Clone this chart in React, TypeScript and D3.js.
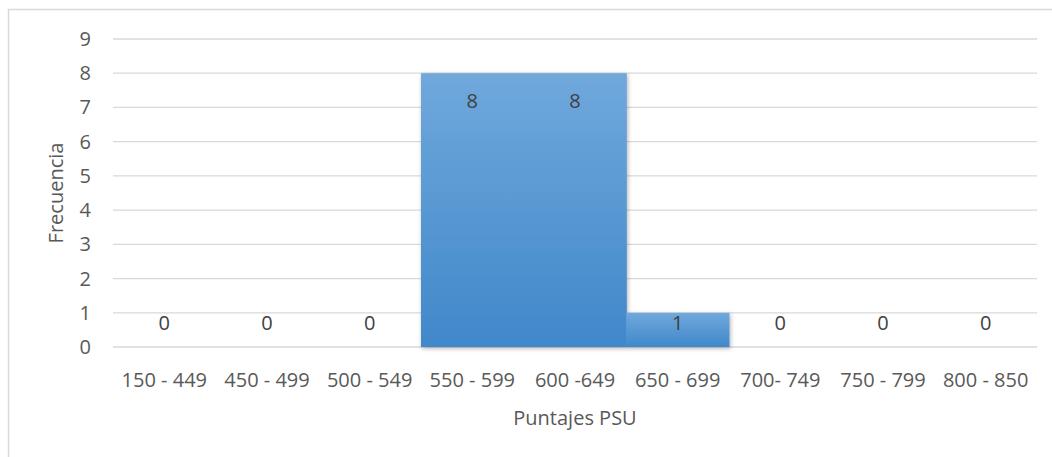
import React from "react";
import * as d3 from "d3";

const categories = ["150 - 449", "450 - 499", "500 - 549", "550 - 599", "600 -649", "650 - 699", "700- 749", "750 - 799", "800 - 850"];
const values = [0, 0, 0, 8, 8, 1, 0, 0, 0];
const yTicks = [0, 1, 2, 3, 4, 5, 6, 7, 8, 9];

const W = 1052;
const H = 457;
const margin = { left: 113, right: 15, top: 39, bottom: 110 };
const FONT = "'Open Sans', 'Liberation Sans', sans-serif";
const TXT = "#595959";
const FS = 20;

export default function App() {
  const x = d3.scaleBand<string>().domain(categories).range([margin.left, W - margin.right]).paddingInner(0).paddingOuter(0);
  const y = d3.scaleLinear().domain([0, 9]).range([H - margin.bottom, margin.top]);
  const y0 = y(0);
  return (
    <svg width={W} height={H} style={{ position: "absolute", left: 0, top: 0, display: "block" }}>
      <defs>
        <linearGradient id="barGrad" x1="0" y1="0" x2="0" y2="1">
          <stop offset="0%" stopColor="#70a8dc" />
          <stop offset="100%" stopColor="#4088ca" />
        </linearGradient>
        <filter id="shadow" x="-10%" y="-10%" width="120%" height="120%">
          <feDropShadow dx="1" dy="1.5" stdDeviation="2.2" floodColor="#000" floodOpacity="0.3" />
        </filter>
      </defs>
      <rect x={0} y={0} width={W} height={H} fill="#fff" />
      <line x1={8.5} y1={9} x2={8.5} y2={H} stroke="#d9d9d9" strokeWidth={1.5} />
      <line x1={8} y1={9.5} x2={W} y2={9.5} stroke="#d9d9d9" strokeWidth={1.5} />
      {yTicks.map((t) => (
        <g key={t}>
          <line x1={margin.left} x2={W - margin.right} y1={y(t)} y2={y(t)} stroke="#d9d9d9" strokeWidth={1.3} />
          <text x={91} y={y(t)} dy="0.35em" textAnchor="end" fontFamily={FONT} fontSize={FS} fill={TXT}>{t}</text>
        </g>
      ))}
      <g filter="url(#shadow)">
        {categories.map((c, i) => {
          const v = values[i];
          if (v <= 0) return null;
          return (
            <rect key={c} x={x(c)!} y={y(v)} width={x.bandwidth() + 0.5} height={y0 - y(v)} fill="url(#barGrad)" />
          );
        })}
      </g>
      {categories.map((c, i) => {
        const v = values[i];
        const cy = Math.min(y(v) + 28, y0 - 24);
        return (
          <text key={"l" + c} x={x(c)! + x.bandwidth() / 2} y={cy} dy="0.35em" textAnchor="middle" fontFamily={FONT} fontSize={FS} fill="#404040">{v}</text>
        );
      })}
      {categories.map((c) => (
        <text key={"t" + c} x={x(c)! + x.bandwidth() / 2} y={380} dy="0.35em" textAnchor="middle" fontFamily={FONT} fontSize={FS} fill={TXT}>{c}</text>
      ))}
      <text x={575} y={418} dy="0.35em" textAnchor="middle" fontFamily={FONT} fontSize={FS} fill={TXT}>Puntajes PSU</text>
      <text transform={`translate(56,193) rotate(-90)`} dy="0.35em" textAnchor="middle" fontFamily={FONT} fontSize={FS} fill={TXT}>Frecuencia</text>
    </svg>
  );
}
